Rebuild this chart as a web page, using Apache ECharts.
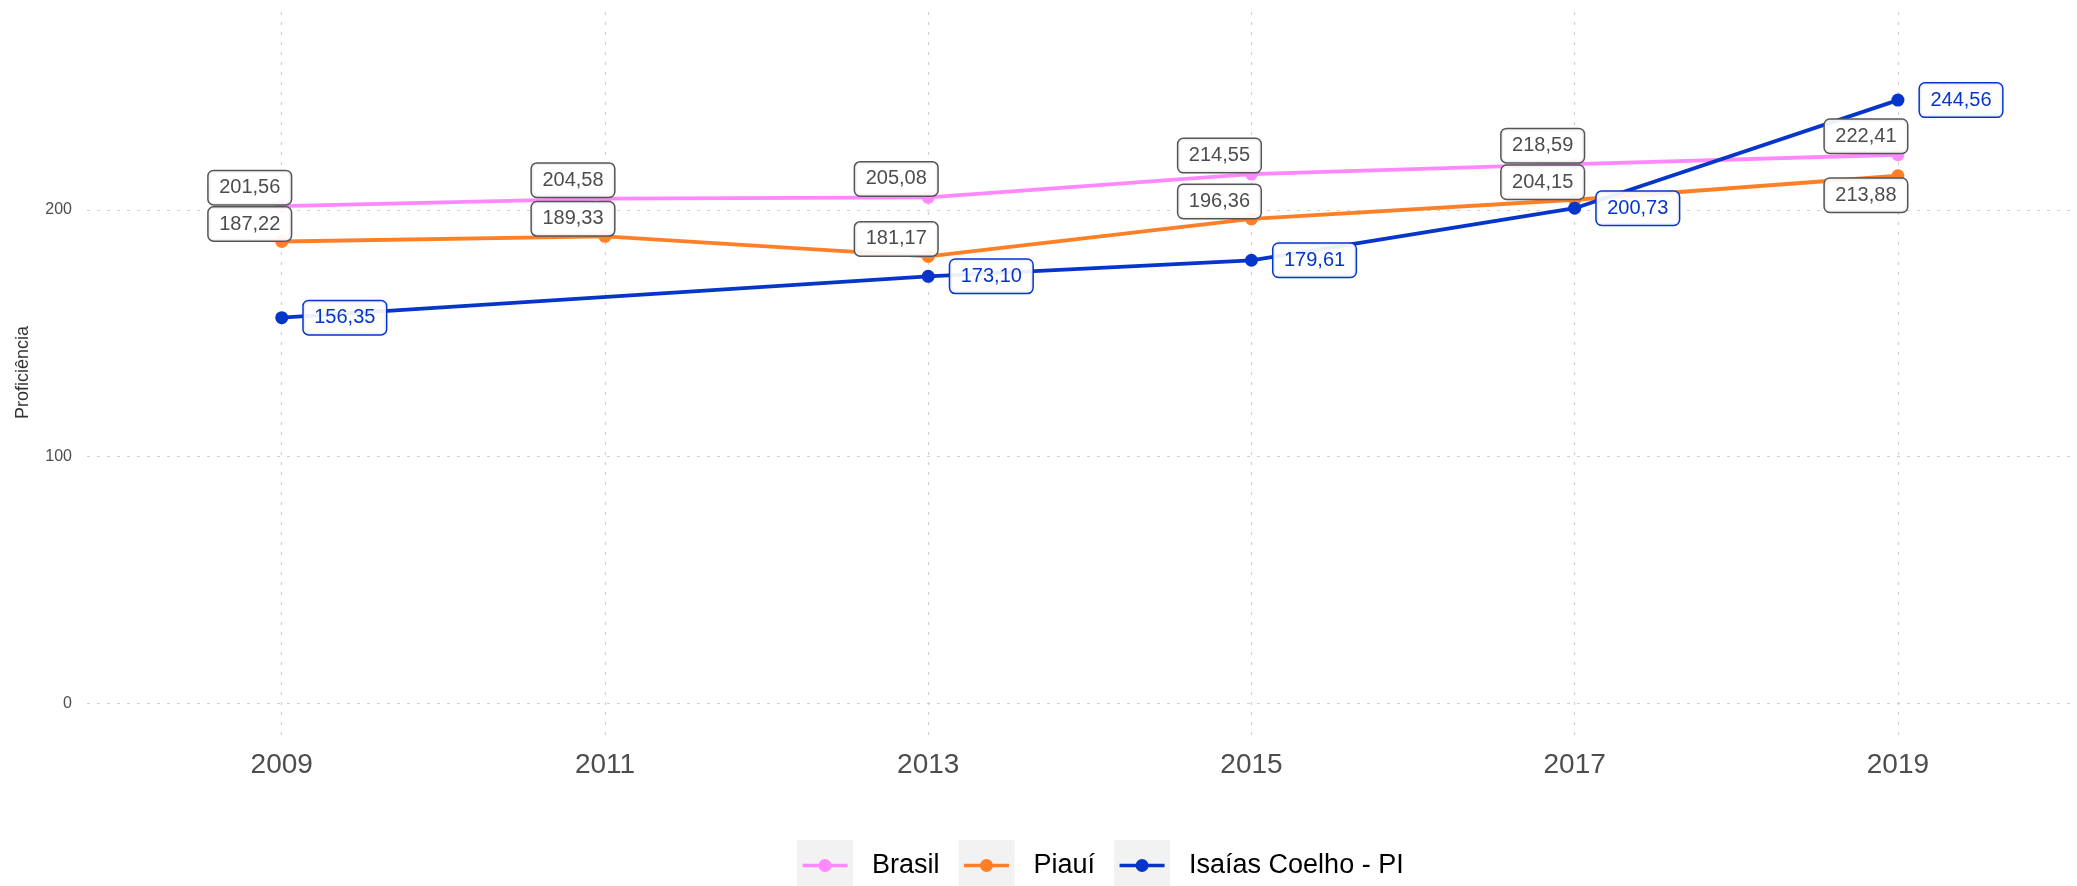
<!DOCTYPE html>
<html>
<head>
<meta charset="utf-8">
<script src="https://cdn.jsdelivr.net/npm/echarts@6/dist/echarts.min.js"></script>
<style>
    html, body { margin: 0; padding: 0; background: #fff; }
    #chart { width: 2077px; height: 886px; }
</style>
</head>
<body>
<div id="chart"></div>
<script>
// dados
const years = [2009, 2011, 2013, 2015, 2017, 2019];
const brasil = [201.56, 204.58, 205.08, 214.55, 218.59, 222.41];
const piaui = [187.22, 189.33, 181.17, 196.36, 204.15, 213.88];
const isaias = [156.35, null, 173.10, 179.61, 200.73, 244.56];
const yTicks = [0, 100, 200];
const seriesNames = ["Brasil", "Piauí", "Isaías Coelho - PI"];

const FONT = "'Liberation Sans', Arial, sans-serif";
const colors = ["#FF88FF", "#FF7F27", "#0635C9"];

function pairs(vals) {
    const out = [];
    years.forEach((y, i) => {
        if (vals[i] !== null) out.push([y, vals[i]]);
    });
    return out;
}

function fmt(p) {
    return p.value[1].toFixed(2).replace(".", ",");
}

const boxLabel = {
    show: true,
    formatter: fmt,
    fontFamily: FONT,
    fontSize: 20,
    lineHeight: 20,
    color: "#4d4d4d",
    opacity: 1,
    backgroundColor: "rgba(255,255,255,0.92)",
    borderColor: "#555",
    borderWidth: 1.5,
    borderRadius: 5,
    padding: [6.5, 10.5]
};

const gridLine = {type: [3, 7], color: "#cfcfcf", width: 1.2};

const chart = echarts.init(document.getElementById("chart"));

const legendBase = {
    left: 792,
    top: 835,
    orient: "horizontal",
    itemWidth: 56,
    itemHeight: 51,
    itemGap: 19,
    data: seriesNames,
    selectedMode: false,
    textStyle: {
        fontFamily: FONT,
        fontSize: 27,
        color: "#000",
        padding: [0, 0, 0, 14]
    }
};

function lineSeries(idx, data) {
    return {
        name: seriesNames[idx],
        type: "line",
        data: data,
        z: 2,
        symbol: "circle",
        symbolSize: 13,
        itemStyle: {color: colors[idx]},
        lineStyle: {width: 3.8, color: colors[idx]},
        label: {show: false}
    };
}

// rótulos numa camada acima de todas as linhas
function labelSeries(idx, data, label) {
    return {
        name: seriesNames[idx] + " (rótulos)",
        type: "line",
        data: data,
        z: 5,
        silent: true,
        symbol: "circle",
        symbolSize: 13,
        itemStyle: {color: "rgba(0,0,0,0)"},
        lineStyle: {width: 0, opacity: 0},
        label: label
    };
}

const piauiData = pairs(piaui).map(d => d[0] === 2019
    ? {value: d, label: {position: "bottom", distance: -3.5}}
    : d);

const option = {
    animation: false,
    grid: {left: 87, right: 0, top: 10, bottom: 151},
    legend: [
        Object.assign({}, legendBase, {
            icon: "rect",
            itemStyle: {color: "#f2f2f2", borderWidth: 0}
        }),
        Object.assign({}, legendBase, {
            icon: "path://M0,0h0.01v0.01h-0.01z M55.99,50.99h0.01v0.01h-0.01z M5.5,23.75h45v3.5h-45z M34.5,25.5a6.5,6.5 0 1,1 -13,0a6.5,6.5 0 1,1 13,0z",
            textStyle: Object.assign({}, legendBase.textStyle, {color: "rgba(0,0,0,0)"})
        })
    ],
    xAxis: {
        type: "value",
        min: 2007.795,
        max: 2020.108,
        axisLine: {show: false},
        axisTick: {show: false},
        splitLine: {show: false},
        axisLabel: {
            customValues: years,
            formatter: v => String(v),
            fontFamily: FONT,
            fontSize: 28,
            color: "#4d4d4d",
            margin: 16
        }
    },
    yAxis: {
        type: "value",
        min: -12.9,
        max: 281.1,
        name: "Proficiência",
        nameLocation: "middle",
        nameGap: 55,
        nameTextStyle: {fontFamily: FONT, fontSize: 18, color: "#333"},
        axisLine: {show: false},
        axisTick: {show: false},
        splitLine: {show: false},
        axisLabel: {
            customValues: yTicks,
            fontFamily: FONT,
            fontSize: 16,
            color: "#4d4d4d",
            margin: 15
        }
    },
    series: [
        {
            name: "_grid",
            type: "line",
            data: [],
            z: 0,
            silent: true,
            markLine: {
                z: 0,
                silent: true,
                symbol: "none",
                label: {show: false},
                lineStyle: gridLine,
                emphasis: {disabled: true},
                data: yTicks.map(v => ({yAxis: v})).concat(years.map(v => ({xAxis: v})))
            }
        },
        lineSeries(0, pairs(brasil)),
        lineSeries(1, pairs(piaui)),
        lineSeries(2, pairs(isaias)),
        labelSeries(0, pairs(brasil),
            Object.assign({}, boxLabel, {position: "top", distance: -4.5, offset: [-32, 0]})),
        labelSeries(1, piauiData,
            Object.assign({}, boxLabel, {position: "top", distance: -5.5, offset: [-32, 0]})),
        labelSeries(2, pairs(isaias),
            Object.assign({}, boxLabel, {
                position: "right",
                distance: 15.5,
                color: "#0635C9",
                borderColor: "#0635C9"
            }))
    ]
};

chart.setOption(option);
</script>
</body>
</html>
